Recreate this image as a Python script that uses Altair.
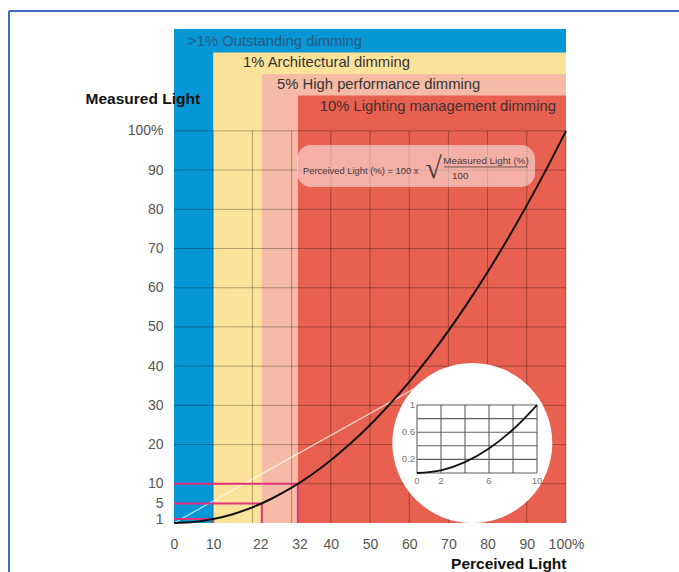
import altair as alt
import pandas as pd

# ---------------- data ----------------
band_names = [">1% Outstanding dimming", "1% Architectural dimming",
              "5% High performance dimming", "10% Lighting management dimming"]
band_start = [0, 10, 22.4, 31.6]
band_end = [100, 100, 100, 100]
band_top = [126, 120, 114.5, 109]

x_ticks = [0, 10, 22, 32, 40, 50, 60, 70, 80, 90, 100]
y_ticks = [1, 5, 10, 20, 30, 40, 50, 60, 70, 80, 90, 100]
grid_levels = [10, 20, 30, 40, 50, 60, 70, 80, 90, 100]

perceived = [0, 5, 10, 15, 20, 25, 30, 35, 40, 45, 50, 55, 60, 65, 70, 75, 80, 85, 90, 95, 100]
measured = [0, 0.25, 1, 2.25, 4, 6.25, 9, 12.25, 16, 20.25, 25, 30.25, 36, 42.25, 49,
            56.25, 64, 72.25, 81, 90.25, 100]

guide_measured = [1, 5, 10]
guide_perceived = [10, 22.4, 31.6]

ref_x = [0, 68]
ref_y = [0, 38]

inset_x = [0, 2, 4, 6, 8, 10]
inset_y = [0, 0.04, 0.16, 0.36, 0.64, 1]
inset_grid_x = [0, 2, 4, 6, 8, 10]
inset_grid_y = [0, 0.2, 0.4, 0.6, 0.8, 1]
inset_ylabels = ["1", "0.6", "0.2"]
inset_yvals = [1, 0.6, 0.2]
inset_xlabels = ["0", "2", "6", "10"]
inset_xvals = [0, 2, 6, 10]

# ---------------- styles / layout ----------------
band_colors = ["#0597d6", "#fde39a", "#f6bba6", "#e8604f"]
band_text_colors = ["#2f5680", "#333333", "#333333", "#432f2f"]
FONT = "Liberation Sans"
W, H = 392, 498
PL, PT = 174, 25

xs = alt.Scale(domain=[0, 100], nice=False, zero=False)
ys = alt.Scale(domain=[0, 127], nice=False, zero=False)

xaxis = alt.Axis(values=x_ticks, labelExpr="datum.value == 100 ? '100%' : datum.label",
                 grid=False, domain=False, ticks=False, tickSize=0, labelPadding=21,
                 labelFontSize=14, labelColor="#555", labelFont=FONT, labelOverlap=False,
                 labelFlush=False, labelBaseline="middle", zindex=1,
                 title="Perceived Light", titleFont=FONT, titleFontSize=15.5,
                 titleFontWeight="bold", titleColor="#111", titleX=W, titleY=40,
                 titleAlign="right", titleBaseline="middle")
yaxis = alt.Axis(values=y_ticks, labelExpr="datum.value == 100 ? '100%' : datum.label",
                 grid=False, domain=False, ticks=False, tickSize=0, labelPadding=11,
                 labelFontSize=14, labelColor="#555", labelFont=FONT, labelOverlap=False,
                 labelFlush=False, zindex=1,
                 title="Measured Light", titleFont=FONT, titleFontSize=15.5,
                 titleFontWeight="bold", titleColor="#111", titleAngle=0, titleX=-89,
                 titleY=73, titleAlign="left", titleBaseline="middle")


def X(f="x"):
    return alt.X(f"{f}:Q", scale=xs, axis=xaxis)


def Y(f="y"):
    return alt.Y(f"{f}:Q", scale=ys, axis=yaxis)


# ---------------- main layers ----------------
frame_df = pd.DataFrame({"k": [0]})
frame_v = alt.Chart(frame_df).mark_rule(color="#3d6cc0", strokeWidth=2).encode(
    x=alt.value(9 - PL), y=alt.value(11 - PT), y2=alt.value(572 - PT + 5))
frame_h = alt.Chart(frame_df).mark_rule(color="#3d6cc0", strokeWidth=2).encode(
    x=alt.value(9 - PL), x2=alt.value(679 - PL + 5), y=alt.value(11 - PT))

bands_df = pd.DataFrame({"name": band_names, "x": band_start, "x2": band_end,
                         "y": [0] * 4, "y2": band_top})
bands = alt.Chart(bands_df).mark_rect().encode(
    x=X(), x2="x2:Q", y=Y(), y2="y2:Q",
    color=alt.Color("name:N", scale=alt.Scale(domain=band_names, range=band_colors), legend=None))

gh_df = pd.DataFrame({"y": grid_levels, "x": [0] * len(grid_levels), "x2": [100] * len(grid_levels)})
gv_df = pd.DataFrame({"x": grid_levels, "y": [0] * len(grid_levels), "y2": [100] * len(grid_levels)})
grid_h = alt.Chart(gh_df).mark_rule(color="black", opacity=0.3, strokeWidth=1).encode(
    x=X(), x2="x2:Q", y=Y())
grid_v = alt.Chart(gv_df).mark_rule(color="black", opacity=0.3, strokeWidth=1).encode(
    x=X(), y=Y(), y2="y2:Q")

ref = alt.Chart(pd.DataFrame({"x": ref_x, "y": ref_y})).mark_line(
    color="white", opacity=0.75, strokeWidth=1.2).encode(x=X(), y=Y())

guide_h = alt.Chart(pd.DataFrame({"x": [0] * 3, "x2": guide_perceived, "y": guide_measured})).mark_rule(
    color="#e2317c", strokeWidth=2).encode(x=X(), x2="x2:Q", y=Y())
guide_v = alt.Chart(pd.DataFrame({"x": guide_perceived, "y": [0] * 3, "y2": guide_measured})).mark_rule(
    color="#e2317c", strokeWidth=2).encode(x=X(), y=Y(), y2="y2:Q")

curve = alt.Chart(pd.DataFrame({"x": perceived, "y": measured})).mark_line(
    color="#111", strokeWidth=2, interpolate="monotone").encode(x=X(), y=Y())

circle = alt.Chart(pd.DataFrame({"x": [76.1], "y": [20.4]})).mark_circle(
    size=25600, color="white", opacity=1).encode(x=X(), y=Y())

box = alt.Chart(pd.DataFrame({"x": [31.4], "x2": [92.1], "y": [85.7], "y2": [96.4]})).mark_rect(
    cornerRadius=14, color="white", opacity=0.5).encode(x=X(), x2="x2:Q", y=Y(), y2="y2:Q")

ftxt_color = "#4a3838"
f1 = alt.Chart(pd.DataFrame({"x": [32.9], "y": [89.8], "t": ["Perceived Light (%) = 100 x"]})).mark_text(
    align="left", baseline="middle", fontSize=9.4, font=FONT, color=ftxt_color).encode(
    x=X(), y=Y(), text="t:N")
f2 = alt.Chart(pd.DataFrame({"x": [79.6], "y": [92.3], "t": ["Measured Light (%)"]})).mark_text(
    align="center", baseline="middle", fontSize=9.8, font=FONT, color=ftxt_color).encode(
    x=X(), y=Y(), text="t:N")
f3 = alt.Chart(pd.DataFrame({"x": [73.0], "y": [88.4], "t": ["100"]})).mark_text(
    align="center", baseline="middle", fontSize=9.8, font=FONT, color=ftxt_color).encode(
    x=X(), y=Y(), text="t:N")
f_sqrt = alt.Chart(pd.DataFrame({"x": [66.2], "y": [90.2], "t": ["√"]})).mark_text(
    align="center", baseline="middle", fontSize=30, font="Liberation Serif", color=ftxt_color).encode(
    x=X(), y=Y(), text="t:N")
f_bar = alt.Chart(pd.DataFrame({"x": [68.9], "x2": [90.3], "y": [90.8]})).mark_rule(
    color=ftxt_color, strokeWidth=0.8).encode(x=X(), x2="x2:Q", y=Y())

lab_df = pd.DataFrame({"name": band_names, "x": [3.6, 17.6, 26.3, 37.2],
                       "y": [122.6, 117.2, 111.6, 106.0]})
band_labels = alt.Chart(lab_df).mark_text(
    align="left", baseline="middle", fontSize=14.8, font=FONT).encode(
    x=X(), y=Y(), text="name:N",
    color=alt.Color("name:N", scale=alt.Scale(domain=band_names, range=band_text_colors), legend=None))

main = alt.layer(bands, grid_h, grid_v, ref, guide_h, guide_v, curve, circle, box,
                 f1, f2, f3, f_sqrt, f_bar, band_labels, frame_v, frame_h).resolve_scale(color="independent")

# ---------------- inset ----------------
ix_px0, ix_pw = 243, 120     # inset x=0 at px 243, 10 units wide over 120 px
iy_pb0, iy_ph = 50, 68       # inset y=0 at 50 px above bottom, 1 unit = 68 px
ixs = alt.Scale(domain=[-ix_px0 / (ix_pw / 10), (W - ix_px0) / (ix_pw / 10)], nice=False, zero=False)
iys = alt.Scale(domain=[-iy_pb0 / iy_ph, (H - iy_pb0) / iy_ph], nice=False, zero=False)


def IX(f="ix"):
    return alt.X(f"{f}:Q", scale=ixs, axis=None)


def IY(f="iy"):
    return alt.Y(f"{f}:Q", scale=iys, axis=None)


igv = alt.Chart(pd.DataFrame({"ix": inset_grid_x, "iy": [0] * 6, "iy2": [1] * 6})).mark_rule(
    color="#5f5f5f", strokeWidth=1.1).encode(x=IX(), y=IY(), y2="iy2:Q")
igh = alt.Chart(pd.DataFrame({"iy": inset_grid_y, "ix": [0] * 6, "ix2": [10] * 6})).mark_rule(
    color="#5f5f5f", strokeWidth=1.1).encode(x=IX(), x2="ix2:Q", y=IY())
icurve = alt.Chart(pd.DataFrame({"ix": inset_x, "iy": inset_y})).mark_line(
    color="#111", strokeWidth=1.8, interpolate="monotone").encode(x=IX(), y=IY())
iyl = alt.Chart(pd.DataFrame({"ix": [0] * 3, "iy": inset_yvals, "t": inset_ylabels})).mark_text(
    align="right", baseline="middle", dx=-2, fontSize=9.5, font=FONT, color="#777").encode(
    x=IX(), y=IY(), text="t:N")
ixl = alt.Chart(pd.DataFrame({"ix": inset_xvals, "iy": [0] * 4, "t": inset_xlabels})).mark_text(
    align="center", baseline="top", dy=3, fontSize=9.5, font=FONT, color="#777").encode(
    x=IX(), y=IY(), text="t:N")

inset = alt.layer(igv, igh, icurve, iyl, ixl)

chart = alt.layer(main, inset).resolve_scale(x="independent", y="independent").properties(
    width=W, height=H,
    autosize=alt.AutoSizeParams(type="none"),
    padding={"left": PL, "top": PT, "right": 679 - PL - W, "bottom": 572 - PT - H},
    background="white",
).configure_view(stroke=None)

chart.save("out.html", embed_options={"renderer": "svg", "actions": False})
